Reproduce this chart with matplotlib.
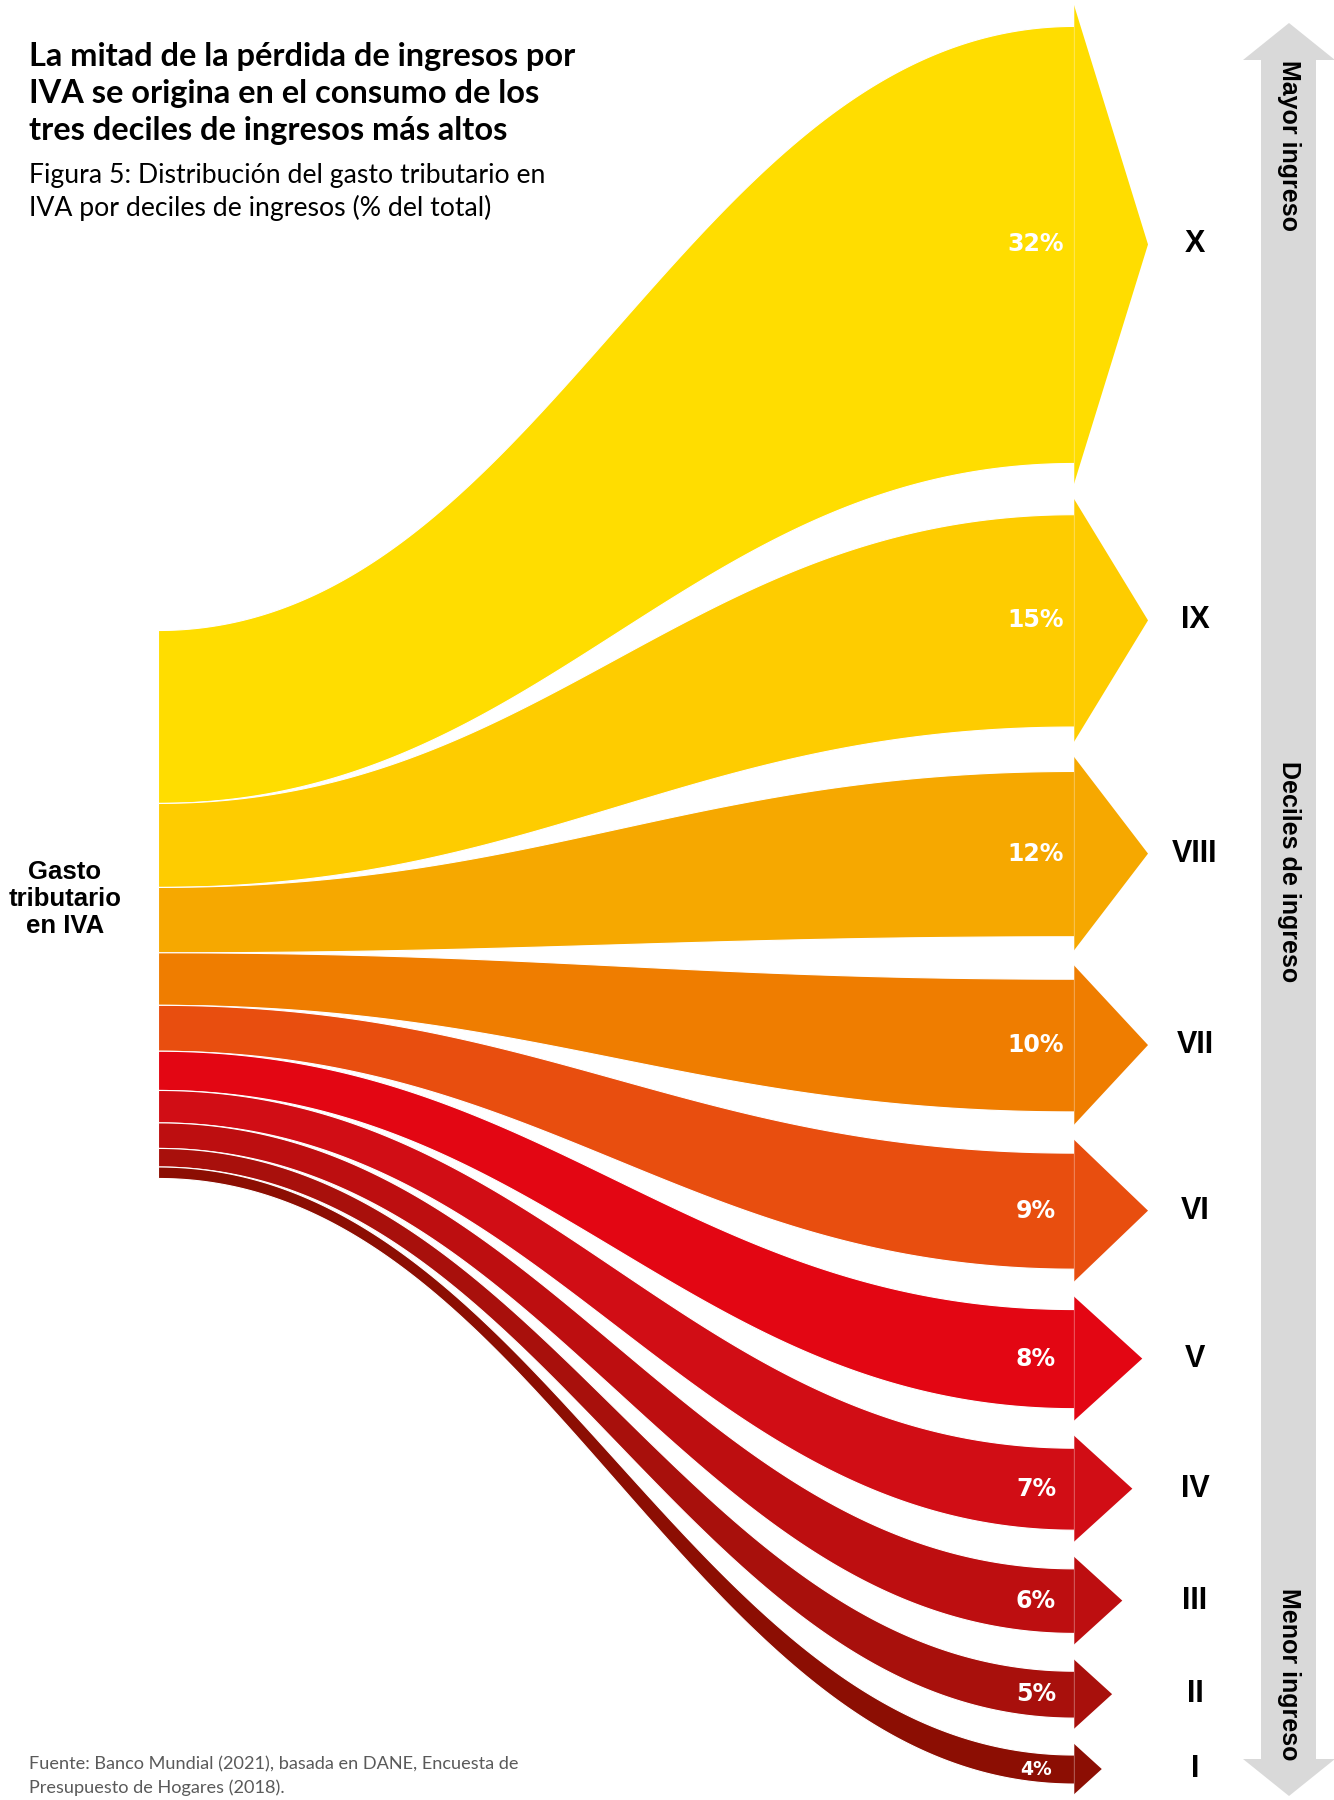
import numpy as np
import matplotlib
matplotlib.use("Agg")
from matplotlib import pyplot as plt
from matplotlib.patches import Polygon

# share of the VAT tax expenditure by income decile (% of total)
deciles = ["X", "IX", "VIII", "VII", "VI", "V", "IV", "III", "II", "I"]
shares = [32, 15, 12, 10, 9, 8, 7, 6, 5, 4]
colors = ["#FFDD00", "#FECC00", "#F6A800", "#EF7D00", "#E84E0F",
          "#E30613", "#D10D15", "#BD0E10", "#A8100C", "#8C0E03"]

title = ("La mitad de la pérdida de ingresos por\n"
         "IVA se origina en el consumo de los\n"
         "tres deciles de ingresos más altos")
subtitle = ("Figura 5: Distribución del gasto tributario en\n"
            "IVA por deciles de ingresos (% del total)")
source = ("Fuente: Banco Mundial (2021), basada en DANE, Encuesta de\n"
          "Presupuesto de Hogares (2018).")

W, H = 1334, 1800
fig = plt.figure(figsize=(W / 100, H / 100), dpi=100)
ax = fig.add_axes([0, 0, 1, 1])
ax.set_xlim(0, W)
ax.set_ylim(H, 0)
ax.axis("off")

x_left, x_right = 158, 1074
left_top, left_bottom = 630, 1178


def arrow_width(v):
    # thickness of the arrow body at the right end, in pixels
    return -0.123 * v**2 + 19.0 * v - 45


widths = [arrow_width(v) for v in shares]

# stack arrows on the right from the top down
gap = 15
cursor = 5
centers, heads = [], []
for w in widths:
    half_head = w / 2 + 10 + 0.025 * w
    c = cursor + half_head
    centers.append(c)
    heads.append(half_head)
    cursor = c + half_head + gap

# the source block keeps the same proportions as the arrows
lw = np.array(widths) * (left_bottom - left_top) / sum(widths)
left_edges = left_top + np.concatenate([[0], np.cumsum(lw)])

# cubic bezier easing with horizontal handles
hnd = 0.42
u = np.linspace(0, 1, 400)
xn = 3 * (1 - u)**2 * u * hnd + 3 * (1 - u) * u**2 * (1 - hnd) + u**3
s = 3 * u**2 - 2 * u**3
xs = x_left + xn * (x_right - x_left)

for i, (w, c, hh, col) in enumerate(zip(widths, centers, heads, colors)):
    lt, lb = left_edges[i], left_edges[i + 1]
    rt, rb = c - w / 2, c + w / 2
    top = lt + (rt - lt) * s
    bot = lb + (rb - lb) * s
    ax.fill_between(xs, top, bot, facecolor=col, edgecolor="white", lw=0.8)
    tip = min(74, 1.1 * hh)
    ax.add_patch(Polygon([(x_right, c - hh), (x_right + tip, c), (x_right, c + hh)],
                         closed=True, facecolor=col, edgecolor="none"))
    ax.plot([x_right, x_right], [c - hh, c + hh], color="white", lw=0.6, alpha=0.35)
    fs = 17 if shares[i] > 4 else 13.5
    ax.text(1036, c, f"{shares[i]}%", ha="center", va="center", color="white",
            fontsize=fs, fontweight="bold", family="DejaVu Sans")
    ax.text(1195, c, deciles[i], ha="center", va="center", color="black",
            fontsize=22, fontweight="bold", family="Liberation Sans")

# grey double arrow on the right
grey = "#D9D9D9"
ax.add_patch(Polygon([(1261, 60), (1316, 60), (1316, 1759), (1261, 1759)],
                     closed=True, facecolor=grey, edgecolor="none"))
ax.add_patch(Polygon([(1243, 60), (1289, 23), (1335, 60)],
                     closed=True, facecolor=grey, edgecolor="none"))
ax.add_patch(Polygon([(1243, 1759), (1289, 1796), (1335, 1759)],
                     closed=True, facecolor=grey, edgecolor="none"))
side = dict(rotation=-90, ha="center", fontsize=18, fontweight="bold",
            family="Liberation Sans", color="black")
ax.text(1289, 60, "Mayor ingreso", va="top", **side)
ax.text(1289, 872, "Deciles de ingreso", va="center", **side)
ax.text(1289, 1760, "Menor ingreso", va="bottom", **side)

# left label
ax.text(65, 899, "Gasto\ntributario\nen IVA", ha="center", va="center",
        multialignment="center", fontsize=18.5, fontweight="bold",
        family="Liberation Sans", linespacing=1.18)

# headings and source
ax.text(29, 42, title, ha="left", va="top", fontsize=23.4, fontweight="bold",
        family="Lato", linespacing=1.34)
ax.text(29, 163, subtitle, ha="left", va="top", fontsize=19.2,
        family="Lato", linespacing=1.33)
ax.text(29, 1776, source, ha="left", va="center", fontsize=13.1,
        family="Lato", color="#5A5A5A", linespacing=1.53)

fig.savefig("out.png", dpi=100)
